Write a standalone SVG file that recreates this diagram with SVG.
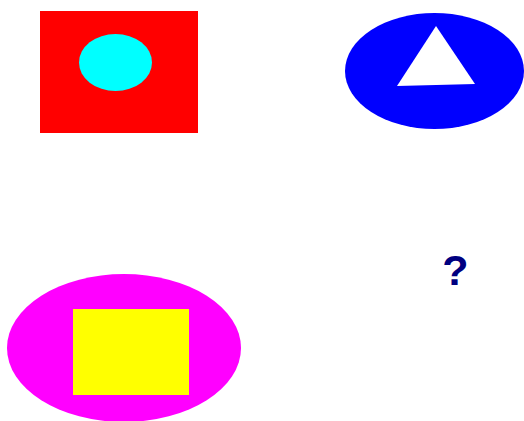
<svg xmlns="http://www.w3.org/2000/svg" width="524" height="421" viewBox="0 0 524 421">
<style>
.q{font-family:"Liberation Sans",Arial,sans-serif;font-weight:bold;font-size:43px;fill:#000080}
</style>
<rect width="524" height="421" fill="#ffffff"/>
<g id="node-a">
<rect x="40" y="11" width="158" height="122" fill="#ff0000"/>
<ellipse cx="115.5" cy="62.5" rx="36.5" ry="28.5" fill="#00ffff"/>
</g>
<g id="node-b">
<ellipse cx="434.5" cy="71" rx="89.5" ry="58" fill="#0000ff"/>
<polygon points="436,26 397,86 475,84" fill="#ffffff"/>
</g>
<g id="node-c">
<ellipse cx="124" cy="348" rx="117" ry="74" fill="#ff00ff"/>
<rect x="73" y="309" width="116" height="86" fill="#ffff00"/>
</g>
<g id="node-d">
<text class="q" x="455.5" y="285" text-anchor="middle">?</text>
</g>
<g id="connectors"/>
</svg>
